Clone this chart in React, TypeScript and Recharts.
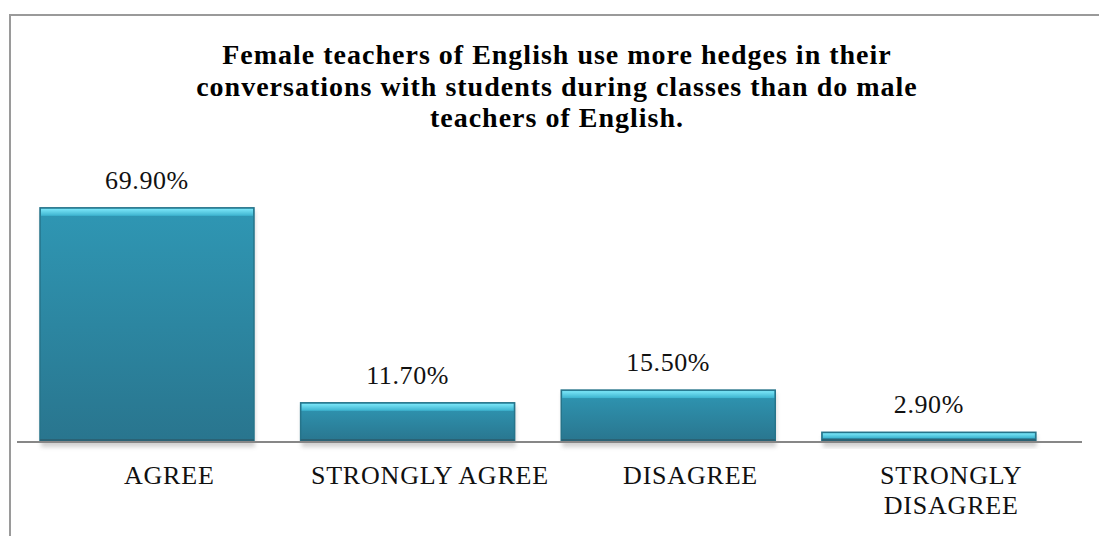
import React from "react";
import { BarChart, Bar, XAxis, YAxis, LabelList } from "recharts";

const CATEGORIES = ["AGREE", "STRONGLY AGREE", "DISAGREE", "STRONGLY DISAGREE"];
const VALUES = [69.9, 11.7, 15.5, 2.9];

const TITLE_LINES = [
  "Female teachers of English use more hedges in their",
  "conversations with students during classes than do male",
  "teachers of English.",
];

const data = CATEGORIES.map((name, i) => ({ name, value: VALUES[i] }));

const SERIF = "'Liberation Serif', 'Times New Roman', serif";

function GlassBar(props: any) {
  const { x, y, width, height } = props;
  if (height <= 0) return null;
  const bevel = Math.min(7, height / 2);
  return (
    <g>
      <rect x={x + 1} y={y + 3} width={width} height={height + 2} fill="#9a9a9a" opacity={0.45} filter="url(#barShadow)" />
      <rect x={x} y={y} width={width} height={height} fill="url(#barBody)" stroke="#26748a" strokeWidth={1.5} />
      <rect x={x + 1} y={y + 1} width={width - 2} height={bevel} fill="url(#barTop)" />
      <rect x={x} y={y + height - 3} width={width} height={3} fill="#2a6275" />
    </g>
  );
}

function CategoryTick(props: any) {
  const { x, y, payload } = props;
  const words: string[] = payload.value === "STRONGLY DISAGREE" ? ["STRONGLY", "DISAGREE"] : [payload.value];
  return (
    <g>
      {words.map((w, i) => (
        <text
          key={i}
          x={x + 22}
          y={y + 34 + i * 30}
          textAnchor="middle"
          fontFamily={SERIF}
          fontSize={26}
          letterSpacing={0.8}
          fill="#111"
        >
          {w}
        </text>
      ))}
    </g>
  );
}

function ValueLabel(props: any) {
  const { x, y, width, value } = props;
  return (
    <text x={x + width / 2} y={y - 19} textAnchor="middle" fontFamily={SERIF} fontSize={26} letterSpacing={0.6} fill="#111">
      {Number(value).toFixed(2)}%
    </text>
  );
}

export default function App() {
  return (
    <div style={{ position: "absolute", left: 0, top: 0, width: 1099, height: 536, background: "#fff", overflow: "hidden" }}>
      <div
        style={{
          position: "absolute",
          left: 9,
          top: 14,
          width: 1200,
          height: 600,
          borderLeft: "2px solid #9a9a9a",
          borderTop: "2px solid #9a9a9a",
        }}
      />
      <svg width={1099} height={140} style={{ position: "absolute", left: 0, top: 0 }}>
        {TITLE_LINES.map((line, i) => (
          <text
            key={i}
            x={557}
            y={64 + i * 31.5}
            textAnchor="middle"
            fontFamily={SERIF}
            fontWeight="bold"
            fontSize={28}
            letterSpacing={1}
            fill="#000"
          >
            {line}
          </text>
        ))}
      </svg>
      <div style={{ position: "absolute", left: 0, top: 0 }}>
        <BarChart
          width={1099}
          height={536}
          data={data}
          margin={{ top: 174, right: 17, bottom: 0, left: 17 }}
          barSize={214}
        >
          <defs>
            <linearGradient id="barBody" x1="0" y1="0" x2="0" y2="1">
              <stop offset="0%" stopColor="#2f97b4" />
              <stop offset="100%" stopColor="#29758e" />
            </linearGradient>
            <linearGradient id="barTop" x1="0" y1="0" x2="0" y2="1">
              <stop offset="0%" stopColor="#7be6f8" />
              <stop offset="100%" stopColor="#3cb3cf" />
            </linearGradient>
            <filter id="barShadow" x="-5%" y="-5%" width="110%" height="120%">
              <feGaussianBlur stdDeviation="2" />
            </filter>
          </defs>
          <XAxis
            dataKey="name"
            axisLine={{ stroke: "#878787", strokeWidth: 2 }}
            tickLine={false}
            tick={<CategoryTick />}
            interval={0}
            padding={{ left: 0, right: 22.5 }}
            height={94}
          />
          <YAxis hide domain={[0, 80]} />
          <Bar dataKey="value" shape={<GlassBar />} isAnimationActive={false}>
            <LabelList dataKey="value" content={<ValueLabel />} />
          </Bar>
        </BarChart>
      </div>
    </div>
  );
}
